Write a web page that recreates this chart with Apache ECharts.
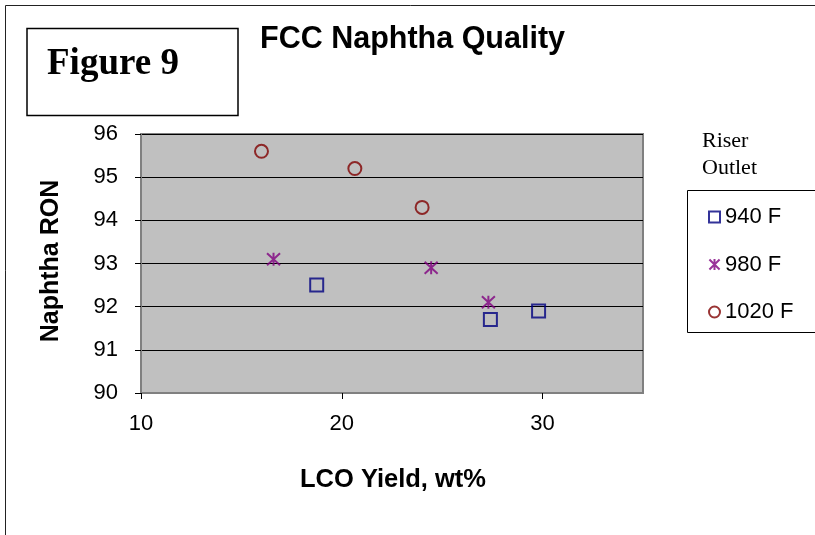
<!DOCTYPE html>
<html>
<head>
<meta charset="utf-8">
<script src="https://cdn.jsdelivr.net/npm/echarts@6/dist/echarts.min.js"></script>
<style>html,body{margin:0;padding:0;background:#fff}#c{width:815px;height:535px}</style>
</head>
<body>
<div id="c"></div>
<script>
// Data
const seriesNames = ['940 F', '980 F', '1020 F'];
const x940 = [18.75, 27.4, 29.8];
const y940 = [92.5, 91.7, 91.9];
const x980 = [16.6, 24.45, 27.3];
const y980 = [93.1, 92.9, 92.1];
const x1020 = [16.0, 20.65, 24.0];
const y1020 = [95.6, 95.2, 94.3];
const xTicks = [10, 20, 30];
const yTicks = [90, 91, 92, 93, 94, 95, 96];

const pairs = (xs, ys) => xs.map((v, i) => [v, ys[i]]);
const SANS = '"Liberation Sans", Arial, sans-serif';
const SERIF = '"Liberation Serif", "Times New Roman", serif';
const starPath = 'path://M0,0L12,12M12,0L0,12M6,-0.5L6,12.5';

const chart = echarts.init(document.getElementById('c'), null, {renderer: 'canvas'});
chart.setOption({
  animation: false,
  backgroundColor: '#ffffff',
  grid: {
    left: 141, right: 172, top: 134, bottom: 142,
    show: true, backgroundColor: '#c0c0c0', borderColor: '#808080', borderWidth: 2
  },
  xAxis: {
    type: 'value', min: 10, max: 35, interval: 10,
    axisLine: {show: true, onZero: false, lineStyle: {color: '#808080', width: 2}},
    axisTick: {show: true, length: 6, customValues: xTicks, lineStyle: {color: '#000'}},
    axisLabel: {customValues: xTicks, margin: 20, color: '#000', fontFamily: SANS, fontSize: 22},
    splitLine: {show: false}
  },
  yAxis: {
    type: 'value', min: 90, max: 96, interval: 1,
    axisLine: {show: true, onZero: false, lineStyle: {color: '#808080', width: 2}},
    axisTick: {show: true, length: 6, lineStyle: {color: '#000'}},
    axisLabel: {margin: 23, color: '#000', fontFamily: SANS, fontSize: 22,
      formatter: v => yTicks.includes(v) ? String(v) : ''},
    splitLine: {show: true, lineStyle: {color: '#000', width: 1}}
  },
  legend: {
    orient: 'vertical', left: 703, top: 200,
    itemWidth: 11, itemHeight: 11, itemGap: 23.5,
    textStyle: {fontFamily: SANS, fontSize: 22, color: '#000', lineHeight: 24},
    data: seriesNames
  },
  series: [
    {
      name: seriesNames[0], type: 'scatter', symbol: 'rect', symbolSize: 13,
      itemStyle: {color: 'rgba(0,0,0,0)', borderColor: '#000080', borderWidth: 2},
      data: pairs(x940, y940)
    },
    {
      name: seriesNames[1], type: 'scatter', symbol: starPath, symbolSize: 13,
      itemStyle: {color: 'rgba(0,0,0,0)', borderColor: '#800080', borderWidth: 2},
      data: pairs(x980, y980)
    },
    {
      name: seriesNames[2], type: 'scatter', symbol: 'circle', symbolSize: 13,
      itemStyle: {color: 'rgba(0,0,0,0)', borderColor: '#800000', borderWidth: 2},
      data: pairs(x1020, y1020)
    }
  ],
  graphic: [
    {type: 'rect', z: -10, silent: true, shape: {x: 5.5, y: 5.5, width: 900, height: 700},
      style: {fill: 'none', stroke: '#222', lineWidth: 1}},
    {type: 'rect', silent: true, shape: {x: 27, y: 28.5, width: 211, height: 87},
      style: {fill: '#fff', stroke: '#000', lineWidth: 1.5}},
    {type: 'text', silent: true, x: 47, y: 64,
      style: {text: 'Figure 9', font: 'bold 37px ' + SERIF, fill: '#000', align: 'left', verticalAlign: 'middle'}},
    {type: 'text', silent: true, x: 260, y: 40,
      style: {text: 'FCC Naphtha Quality', font: 'bold 30.5px ' + SANS, fill: '#000', align: 'left', verticalAlign: 'middle'}},
    {type: 'text', silent: true, x: 51, y: 261, rotation: Math.PI / 2,
      style: {text: 'Naphtha RON', font: 'bold 25px ' + SANS, fill: '#000', align: 'center', verticalAlign: 'middle'}},
    {type: 'text', silent: true, x: 393, y: 480,
      style: {text: 'LCO Yield, wt%', font: 'bold 25.5px ' + SANS, fill: '#000', align: 'center', verticalAlign: 'middle'}},
    {type: 'text', silent: true, x: 702, y: 128,
      style: {text: 'Riser\nOutlet', font: '22px ' + SERIF, lineHeight: 27, fill: '#000', align: 'left', verticalAlign: 'top'}},
    {type: 'rect', silent: true, shape: {x: 687.5, y: 190.5, width: 200, height: 142},
      style: {fill: 'none', stroke: '#000', lineWidth: 1}}
  ]
});
</script>
</body>
</html>
